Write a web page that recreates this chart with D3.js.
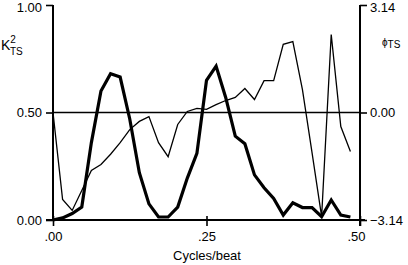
<!DOCTYPE html>
<html>
<head>
<meta charset="utf-8">
<script src="https://cdn.jsdelivr.net/npm/d3@7/dist/d3.min.js"></script>
<style>
  html, body { margin: 0; padding: 0; background: #fff; }
  svg { display: block; font-family: "Liberation Sans", Arial, Helvetica, sans-serif; }
</style>
</head>
<body>
<svg id="chart" width="408" height="265"></svg>
<script>
// Frequencies (cycles/beat)
const freqs = [0.000, 0.015625, 0.03125, 0.046875, 0.0625, 0.078125, 0.09375, 0.109375,
  0.125, 0.140625, 0.15625, 0.171875, 0.1875, 0.203125, 0.21875, 0.234375,
  0.25, 0.265625, 0.28125, 0.296875, 0.3125, 0.328125, 0.34375, 0.359375,
  0.375, 0.390625, 0.40625, 0.421875, 0.4375, 0.453125, 0.46875, 0.484375];
// Squared coherence K^2_TS (thick line, left axis)
const coherence = [0.00, 0.01, 0.03, 0.06, 0.36, 0.60, 0.68, 0.665,
  0.47, 0.22, 0.075, 0.014, 0.014, 0.06, 0.195, 0.31,
  0.65, 0.716, 0.57, 0.39, 0.355, 0.21, 0.15, 0.10,
  0.023, 0.08, 0.058, 0.058, 0.015, 0.093, 0.023, 0.014];
// Phase phi_TS (thin line, right axis, radians)
const phase = [0.00, -2.54, -2.86, -2.28, -1.69, -1.52, -1.22, -0.88,
  -0.50, -0.26, -0.12, -0.88, -1.29, -0.35, 0.03, 0.12,
  0.09, 0.23, 0.35, 0.44, 0.70, 0.38, 0.93, 0.93,
  1.99, 2.07, 0.67, -1.17, -3.04, 2.28, -0.41, -1.14];
const xTicks = [0, 0.25, 0.5];
const xTickLabels = [".00", ".25", ".50"];
const leftTicks = [0, 0.5, 1];
const leftTickLabels = ["0.00", "0.50", "1.00"];
const rightTicks = [-3.14, 0, 3.14];
const rightTickLabels = ["\u22123.14", "0.00", "3.14"];

const svg = d3.select("#chart");
const x = d3.scaleLinear().domain([0, 0.5]).range([53, 360]);
const yL = d3.scaleLinear().domain([0, 1]).range([220, 5]);
const yR = d3.scaleLinear().domain([-3.14, 3.14]).range([220, 5]);

// Left axis
const leftAxis = d3.axisLeft(yL).tickValues(leftTicks)
  .tickFormat((d, i) => leftTickLabels[i]).tickSize(7).tickPadding(4);
const gL = svg.append("g").attr("transform", `translate(${x(0)},0)`).call(leftAxis);
// Right axis
const rightAxis = d3.axisRight(yR).tickValues(rightTicks)
  .tickFormat((d, i) => rightTickLabels[i]).tickSize(7).tickPadding(3);
const gR = svg.append("g").attr("transform", `translate(${x(0.5)},0)`).call(rightAxis);
// Bottom axis
const bottomAxis = d3.axisBottom(x).tickValues(xTicks)
  .tickFormat((d, i) => xTickLabels[i]).tickSize(6).tickPadding(6);
const gB = svg.append("g").attr("transform", `translate(0,${yL(0)})`).call(bottomAxis);

[gL, gR, gB].forEach(g => {
  g.select(".domain").remove();
  g.selectAll(".tick line").attr("stroke", "#000").attr("stroke-width", 1.6);
  g.selectAll(".tick text").attr("fill", "#000").style("font-size", "13px");
});
gB.selectAll(".tick line").attr("y1", -4);
// keep the top labels inside the picture
gL.selectAll(".tick text").filter(d => d === 1).attr("y", 2);
gR.selectAll(".tick text").filter(d => d === 3.14).attr("y", 2);
gB.selectAll(".tick text").filter(d => d === 0.5).attr("x", -4);

// Axis lines
svg.append("line").attr("x1", x(0)).attr("x2", x(0)).attr("y1", yL(1)).attr("y2", yL(0))
  .attr("stroke", "#000").attr("stroke-width", 2);
svg.append("line").attr("x1", x(0.5)).attr("x2", x(0.5)).attr("y1", yL(1)).attr("y2", yL(0) + 6)
  .attr("stroke", "#000").attr("stroke-width", 2);
svg.append("line").attr("x1", x(0) - 7).attr("x2", x(0.5) + 5).attr("y1", yL(0)).attr("y2", yL(0))
  .attr("stroke", "#000").attr("stroke-width", 2);
// Reference line at 0.50 / 0.00
svg.append("line").attr("x1", x(0)).attr("x2", x(0.5)).attr("y1", yL(0.5)).attr("y2", yL(0.5))
  .attr("stroke", "#000").attr("stroke-width", 1.4);

// Phase line (thin)
svg.append("path").datum(phase)
  .attr("fill", "none").attr("stroke", "#000").attr("stroke-width", 1.3)
  .attr("stroke-linejoin", "miter")
  .attr("d", d3.line().x((d, i) => x(freqs[i])).y(d => yR(d)));
// Coherence line (thick)
svg.append("path").datum(coherence)
  .attr("fill", "none").attr("stroke", "#000").attr("stroke-width", 3.2)
  .attr("stroke-linejoin", "miter")
  .attr("d", d3.line().x((d, i) => x(freqs[i])).y(d => yL(d)));

// Axis titles
const kt = svg.append("text").attr("x", 1).attr("y", 50).style("font-size", "14px").attr("fill", "#000");
kt.append("tspan").text("K");
kt.append("tspan").attr("dy", -7).style("font-size", "10px").text("2");
kt.append("tspan").attr("dx", -6).attr("dy", 12).style("font-size", "10px").text("TS");

const pt = svg.append("text").attr("x", 382).attr("y", 46).style("font-size", "10px").attr("fill", "#000");
pt.append("tspan").text("\u03d5");
pt.append("tspan").attr("dy", 2).style("font-size", "10px").text("TS");

svg.append("text").attr("x", 207).attr("y", 260).attr("text-anchor", "middle")
  .style("font-size", "13px").attr("fill", "#000").text("Cycles/beat");
</script>
</body>
</html>
